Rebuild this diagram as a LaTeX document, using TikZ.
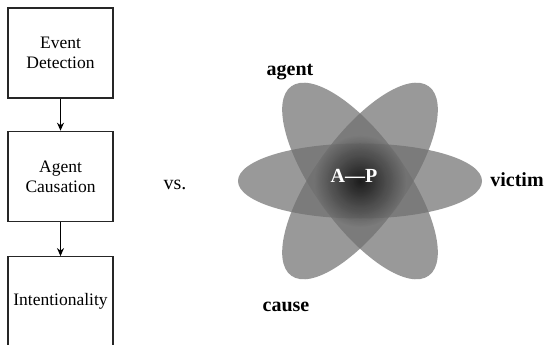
\documentclass[tikz,border=0pt]{standalone}
\usepackage{fontspec}
\setmainfont{Liberation Serif}
\usetikzlibrary{arrows.meta, positioning, fadings}
\tikzfading[name=core glow, inner color=transparent!0, outer color=transparent!100]
\tikzset{
    stage/.style={draw=black!85, line width=1.4pt, minimum width=105pt, minimum height=90pt,
        inner sep=2pt, align=center, font=\fontsize{17.5}{20}\selectfont},
    flow/.style={-{Stealth[length=8pt,width=7pt]}, line width=1.2pt},
    lobe/.style={fill=black!57, fill opacity=0.7},
    role/.style={font=\fontsize{20}{24}\selectfont\bfseries}
}

\begin{document}
\begin{tikzpicture}[x=1pt,y=1pt]
    \def \cx {360}
    \def \cy {164}
    \useasboundingbox (0,0) rectangle (544,345);
    % stages on the left
    \node[stage] (det) at (60.5,292) {Event\\Detection};
    \node[stage, below=32pt of det] (caus) {Agent\\Causation};
    \node[stage, below=34pt of caus] (intent) {Intentionality};
    \draw[flow] (det) -- (caus);
    \draw[flow] (caus) -- (intent);
    \node[font=\fontsize{20}{24}\selectfont] (vs) at (175,160) {vs.};
    % overlapping roles
    \coordinate (core) at (\cx,\cy);
    \fill[lobe] (core) ellipse [x radius=122, y radius=37.5];
    \fill[lobe, rotate around={-54:(core)}] (core) ellipse [x radius=117, y radius=45];
    \fill[lobe, rotate around={54:(core)}] (core) ellipse [x radius=117, y radius=45];
    \fill[black, path fading=core glow, fill opacity=0.75] (core) circle (46);
    \node[role, text=white] (ap) at (354,169) {A---P};
    \node[role] (agent) at (290,273) {agent};
    \node[role] (victim) at (517,165) {victim};
    \node[role] (cause) at (286,38) {cause};
\end{tikzpicture}
\end{document}
